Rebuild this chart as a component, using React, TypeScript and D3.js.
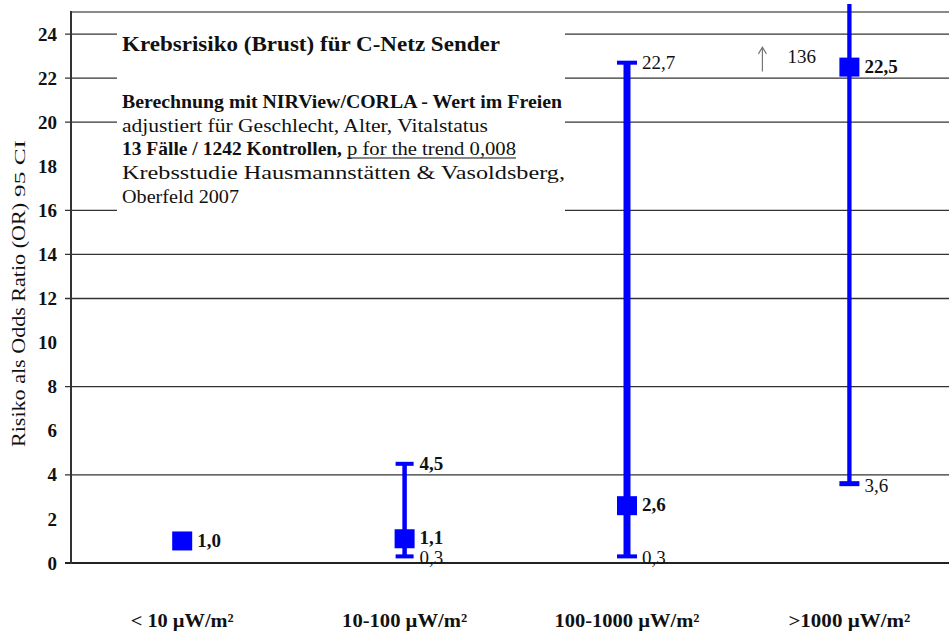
import React from "react";
import * as d3 from "d3";

const categories = ["< 10 µW/m²", "10-100 µW/m²", "100-1000 µW/m²", ">1000 µW/m²"];
const oddsRatio = [1.0, 1.1, 2.6, 22.5];
const ciLower: (number | null)[] = [null, 0.3, 0.3, 3.6];
const ciUpper: (number | null)[] = [null, 4.5, 22.7, 136];
const yTicks = [0, 2, 4, 6, 8, 10, 12, 14, 16, 18, 20, 22, 24];
const gridValues = [0, 4, 8, 12, 14, 16, 20, 22, 24];
const titleText = "Krebsrisiko (Brust) für C-Netz Sender";
const noteLines = [
  "Berechnung mit NIRView/CORLA - Wert im Freien",
  "adjustiert für Geschlecht, Alter, Vitalstatus",
  "13 Fälle / 1242 Kontrollen,",
  "Krebsstudie Hausmannstätten & Vasoldsberg,",
  "Oberfeld 2007",
];
const trendText = "p for the trend 0,008";
const offscaleLabel = "136";

const W = 949;
const H = 634;
const FONT = "'Liberation Serif', 'Times New Roman', serif";
const BLUE = "#0000ff";
const fmt = (v: number) => v.toFixed(1).replace(".", ",");

// styles per category
const whiskerWidth = [0, 4.5, 7, 4.3];
const capWidth = [0, 18, 20, 20];
const capThick = [0, 4, 4, 5];
const xLabelLens = [103, 125, 145, 122];

export default function App() {
  const x = d3.scaleBand<string>().domain(categories).range([71, 960.6]).padding(0);
  const y = d3.scaleLinear().domain([0, 25]).range([563, 12]);
  const cx = (c: string) => (x(c) as number) + x.bandwidth() / 2;
  const plotLeft = 71;
  const plotTop = y(25);

  const noteLens = [440, 366, 220, 443, 117];
  const noteBase = [108, 131.5, 155, 179, 203];
  const noteWeight = ["bold", "normal", "bold", "normal", "normal"];

  return (
    <svg width={W} height={H} style={{ position: "absolute", left: 0, top: 0, background: "#fff" }} fontFamily={FONT}>
      <rect x={0} y={0} width={W} height={H} fill="#fff" />
      {/* top border */}
      <line x1={plotLeft} x2={W} y1={plotTop} y2={plotTop} stroke="#8a8a8a" strokeWidth={2} />
      {/* gridlines + ticks */}
      {gridValues.map((v) => (
        <line key={"g" + v} x1={65} x2={W} y1={y(v)} y2={y(v)} stroke={v === 0 ? "#222" : "#333"} strokeWidth={v === 0 ? 2 : 1.3} />
      ))}
      {/* left axis */}
      <line x1={plotLeft} x2={plotLeft} y1={plotTop - 1} y2={y(0) + 1} stroke="#333" strokeWidth={2} />
      {/* tick labels */}
      {yTicks.map((v) => (
        <text key={"t" + v} x={57} y={y(v)} dy="0.35em" textAnchor="end" fontSize={19} fontWeight="bold" fill="#111">
          {v}
        </text>
      ))}
      {/* y axis title */}
      <g transform={`translate(25, 447) rotate(-90)`}>
        <text x={0} y={0} fontSize={19} textLength={244} lengthAdjust="spacingAndGlyphs" fill="#111">
          Risiko als Odds Ratio (OR)
        </text>
        <text x={250} y={0} fontSize={14} textLength={57} lengthAdjust="spacingAndGlyphs" fill="#111">
          95 CI
        </text>
      </g>

      {/* info box */}
      <rect x={117} y={27} width={448} height={187} fill="#fff" />
      <text x={122} y={51} fontSize={21} fontWeight="bold" textLength={378} lengthAdjust="spacingAndGlyphs" fill="#111">
        {titleText}
      </text>
      {noteLines.map((t, i) => (
        <text key={"n" + i} x={122} y={noteBase[i]} fontSize={19} fontWeight={noteWeight[i]} textLength={noteLens[i]} lengthAdjust="spacingAndGlyphs" fill="#111">
          {t}
        </text>
      ))}
      <text x={347} y={155} fontSize={19} textLength={169} lengthAdjust="spacingAndGlyphs" fill="#111">
        {trendText}
      </text>
      <line x1={347} x2={516} y1={158} y2={158} stroke="#111" strokeWidth={1.2} />

      {/* x labels */}
      {categories.map((c, i) => (
        <text key={"x" + c} x={cx(c) - xLabelLens[i] / 2} y={627} fontSize={19} fontWeight="bold" textLength={xLabelLens[i]} lengthAdjust="spacingAndGlyphs" fill="#111">
          {c}
        </text>
      ))}

      {/* error bars */}
      {categories.map((c, i) => {
        const lo = ciLower[i];
        const hi = ciUpper[i];
        if (lo == null || hi == null) return null;
        const xc = cx(c);
        const yHi = Math.max(y(hi), plotTop - 8);
        const showTopCap = y(hi) >= plotTop;
        const ax = xc - 87;
        return (
          <g key={"e" + c}>
            <rect x={xc - whiskerWidth[i] / 2} y={yHi} width={whiskerWidth[i]} height={y(lo) - yHi} fill={BLUE} />
            <rect x={xc - capWidth[i] / 2} y={y(lo) - capThick[i] / 2} width={capWidth[i]} height={capThick[i]} fill={BLUE} />
            {showTopCap && (
              <rect x={xc - capWidth[i] / 2} y={y(hi) - capThick[i] / 2} width={capWidth[i]} height={capThick[i]} fill={BLUE} />
            )}
            <text x={xc + 15} y={y(lo)} dy="0.42em" fontSize={19} fill="#111">
              {fmt(lo)}
            </text>
            {showTopCap && (
              <text x={xc + 15} y={y(hi)} dy="0.35em" fontSize={19} fontWeight={hi < 10 ? "bold" : "normal"} fill="#111">
                {fmt(hi)}
              </text>
            )}
            {!showTopCap && (
              <g>
                <path
                  d={`M${ax},${y(22.3)} V${y(23.4)} M${ax - 4},${y(23.1)} L${ax},${y(23.4)} L${ax + 4},${y(23.1)}`}
                  fill="none"
                  stroke="#777"
                  strokeWidth={1.2}
                />
                <text x={xc - 62} y={y(23.0)} dy="0.35em" fontSize={19} fill="#111">
                  {offscaleLabel}
                </text>
              </g>
            )}
          </g>
        );
      })}

      {/* point estimates */}
      {categories.map((c, i) => (
        <g key={"p" + c}>
          <rect x={cx(c) - 10} y={y(oddsRatio[i]) - 9.5} width={20} height={19} fill={BLUE} />
          <text x={cx(c) + 15} y={y(oddsRatio[i])} dy="0.3em" fontSize={19} fontWeight="bold" fill="#111">
            {fmt(oddsRatio[i])}
          </text>
        </g>
      ))}
    </svg>
  );
}
